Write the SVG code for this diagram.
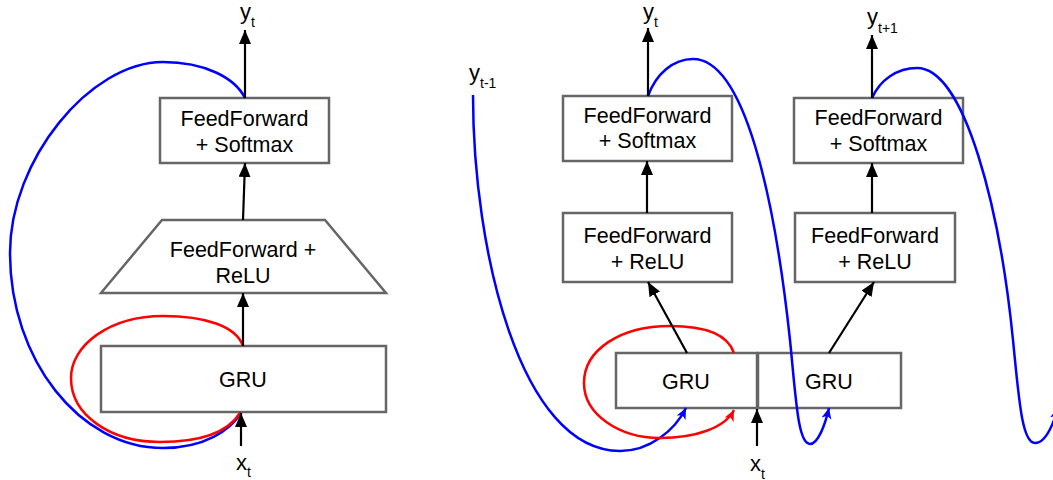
<svg xmlns="http://www.w3.org/2000/svg" width="1053" height="480" viewBox="0 0 1053 480">
<style>
.box{fill:#fff;stroke:#666;stroke-width:2.5}
.t{font-family:"Liberation Sans",Arial,sans-serif;font-size:21.5px;fill:#000;text-anchor:middle}
.lbl{font-family:"Liberation Sans",Arial,sans-serif;font-size:22px;fill:#000}
.sub{font-size:14px}
.arr{fill:none;stroke:#000;stroke-width:2.2;marker-end:url(#ah)}
.blue{fill:none;stroke:#0000ff;stroke-width:2.5}
.red{fill:none;stroke:#ff0000;stroke-width:2.5}
</style>
<defs>
<marker id="ah" markerUnits="userSpaceOnUse" markerWidth="15" markerHeight="13" refX="14" refY="6" orient="auto">
<path d="M0,0 L14,6 L0,12 z" fill="#000"/>
</marker>
<marker id="ahb" markerUnits="userSpaceOnUse" markerWidth="12" markerHeight="11" refX="11" refY="5" orient="auto">
<path d="M0,0 L11,5 L0,10 L3,5 z" fill="#0000ff"/>
</marker>
<marker id="ahr" markerUnits="userSpaceOnUse" markerWidth="12" markerHeight="11" refX="11" refY="5" orient="auto">
<path d="M0,0 L11,5 L0,10 L3,5 z" fill="#ff0000"/>
</marker>
</defs>
<rect width="1053" height="480" fill="#fff"/>

<!-- Left diagram nodes -->
<g id="L-softmax">
<rect class="box" x="160" y="98" width="169" height="65"/>
<text class="t" x="244.5" y="126">FeedForward</text>
<text class="t" x="244.5" y="152">+ Softmax</text>
</g>
<g id="L-relu">
<polygon class="box" points="162,220 325,220 386,293 101,293"/>
<text class="t" x="243" y="257">FeedForward +</text>
<text class="t" x="243" y="283">ReLU</text>
</g>
<g id="L-gru">
<rect class="box" x="101" y="346" width="285" height="66"/>
<text class="t" x="243" y="387">GRU</text>
</g>
<g id="L-yt"><text class="lbl" x="240" y="18.5">y<tspan class="sub" dy="8">t</tspan></text></g>
<g id="L-xt"><text class="lbl" x="236" y="469.5">x<tspan class="sub" dy="7.5">t</tspan></text></g>

<!-- Right diagram nodes -->
<g id="R-softmax1">
<rect class="box" x="563" y="96" width="169" height="65"/>
<text class="t" x="647.5" y="123">FeedForward</text>
<text class="t" x="647.5" y="148">+ Softmax</text>
</g>
<g id="R-relu1">
<rect class="box" x="563" y="213" width="169" height="69"/>
<text class="t" x="647.5" y="243">FeedForward</text>
<text class="t" x="647.5" y="269">+ ReLU</text>
</g>
<g id="R-softmax2">
<rect class="box" x="794" y="98" width="169" height="65"/>
<text class="t" x="878.5" y="125">FeedForward</text>
<text class="t" x="878.5" y="151">+ Softmax</text>
</g>
<g id="R-relu2">
<rect class="box" x="795" y="213" width="160" height="69"/>
<text class="t" x="875" y="243">FeedForward</text>
<text class="t" x="875" y="269">+ ReLU</text>
</g>
<g id="R-gru1">
<rect class="box" x="616" y="353" width="141" height="55"/>
<text class="t" x="686" y="389">GRU</text>
</g>
<g id="R-gru2">
<rect class="box" x="758" y="353" width="143" height="55"/>
<text class="t" x="829" y="389">GRU</text>
</g>
<g id="R-ytm1"><text class="lbl" x="469" y="79.5">y<tspan class="sub" dy="8.5">t-1</tspan></text></g>
<g id="R-yt"><text class="lbl" x="643" y="18.5">y<tspan class="sub" dy="8">t</tspan></text></g>
<g id="R-ytp1"><text class="lbl" x="867" y="23.5">y<tspan class="sub" dy="9">t+1</tspan></text></g>
<g id="R-xt"><text class="lbl" x="750" y="471">x<tspan class="sub" dy="7.5">t</tspan></text></g>

<!-- Connectors -->
<g id="connectors">
<path class="blue" d="M245,98 C235,78 205,62 163,62 C90,62 10,160 10,253 C10,360 80,448 163,448 C205,448 230,430 241,413"/>
<path class="red" d="M243,346 C236,326 205,316 163,316 C110,316 71,345 71,378 C71,415 110,442 160,442 C200,442 228,432 240,413"/>
<line class="arr" x1="245" y1="98" x2="245" y2="30"/>
<line class="arr" x1="243" y1="220" x2="245" y2="163"/>
<line class="arr" x1="243" y1="346" x2="243" y2="293"/>
<line class="arr" x1="241" y1="446" x2="241" y2="413"/>

<path class="blue" marker-end="url(#ahb)" d="M473,95 C473,250 520,451 620,451 C650,451 675,430 686,408"/>
<path class="blue" marker-end="url(#ahb)" d="M648,96 C656,74 673,59 693,59 C745,59 775,200 790,340 C796,400 798,444 810,444 C818,444 825,425 829,408"/>
<path class="blue" marker-end="url(#ahb)" d="M872,98 C880,80 897,68 917,68 C965,68 1000,210 1013,340 C1019,400 1022,443 1035,443 C1045,443 1053,425 1058,408"/>
<path class="red" marker-end="url(#ahr)" d="M734,353 C728,335 705,326 670,326 C620,326 584,350 584,383 C584,415 620,438 660,438 C695,438 725,428 734,410"/>
<line class="arr" x1="648" y1="96" x2="648" y2="28"/>
<line class="arr" x1="647" y1="213" x2="647" y2="161"/>
<line class="arr" x1="687" y1="353" x2="648" y2="282"/>
<line class="arr" x1="872" y1="98" x2="872" y2="35"/>
<line class="arr" x1="872" y1="213" x2="872" y2="163"/>
<line class="arr" x1="829" y1="353" x2="874" y2="282"/>
<line class="arr" x1="757" y1="446" x2="757" y2="409"/>
</g>
</svg>
